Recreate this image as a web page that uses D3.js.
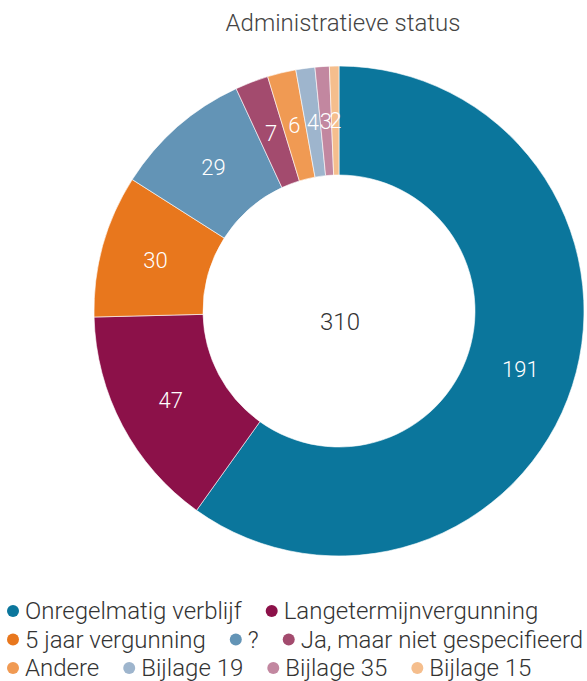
<!DOCTYPE html>
<html lang="en">
    <head>
        <meta charset="UTF-8" />
        <title>Administratieve status</title>
        <script src="https://d3js.org/d3.v7.js"></script>
    </head>

    <body>
        <div id="dataviz"></div>
    </body>

    <script>
        const categories = ["Onregelmatig verblijf", "Langetermijnvergunning", "5 jaar vergunning", "?",
            "Ja, maar niet gespecifieerd", "Andere", "Bijlage 19", "Bijlage 35", "Bijlage 15"];
        const values = [191, 47, 30, 29, 7, 6, 4, 3, 2];
        const colors = ["#0b769c", "#8c1149", "#e8771d", "#6394b6", "#a34b6e", "#f09a53", "#9eb5cd", "#c287a0", "#f5be8d"];
        const title = "Administratieve status";
        const centerLabel = "310";

        const width = 587, height = 681;
        const cx = 339, cy = 311, outerR = 245, innerR = 136;

        const svg = d3.select("#dataviz")
            .append("svg")
            .attr("width", width)
            .attr("height", height)
            .style("font-family", "Roboto")
            .style("font-weight", 300);

        svg.append("text")
            .attr("x", 343)
            .attr("y", 31)
            .attr("text-anchor", "middle")
            .attr("font-size", 24)
            .attr("fill", "#444")
            .text(title);

        const pie = d3.pie().sort(null).value(d => d);
        const arcs = pie(values);
        const arc = d3.arc().innerRadius(innerR).outerRadius(outerR);

        const g = svg.append("g").attr("transform", `translate(${cx},${cy})`);

        g.selectAll("path")
            .data(arcs)
            .join("path")
            .attr("d", arc)
            .attr("fill", (d, i) => colors[i])
            .attr("stroke", "#fff")
            .attr("stroke-width", 0.6);

        g.selectAll("text.val")
            .data(arcs)
            .join("text")
            .attr("class", "val")
            .attr("transform", d => `translate(${arc.centroid(d)})`)
            .attr("text-anchor", "middle")
            .attr("dy", "0.35em")
            .attr("font-size", 22)
            .attr("fill", "#fff")
            .text(d => d.data);

        g.append("text")
            .attr("y", 11)
            .attr("dy", "0.35em")
            .attr("x", 1)
            .attr("text-anchor", "middle")
            .attr("font-size", 24)
            .attr("fill", "#333")
            .text(centerLabel);

        // legend, flows left to right and wraps
        const legend = svg.append("g");
        let lx = 13, ly = 611;
        categories.forEach(function(c, i) {
            const item = legend.append("g");
            item.append("circle").attr("r", 6).attr("fill", colors[i]);
            const t = item.append("text")
                .attr("x", 12)
                .attr("dy", "0.35em")
                .attr("font-size", 24)
                .attr("fill", "#333")
                .text(c);
            const w = t.node().getComputedTextLength();
            if (lx + 12 + w > width && lx > 13) {
                lx = 13;
                ly += 28.5;
            }
            item.attr("transform", `translate(${lx},${ly})`);
            lx += 12 + w + 30;
        });
    </script>

    <style>
        body { margin: 0; }
        svg { display: block; }
    </style>
</html>
